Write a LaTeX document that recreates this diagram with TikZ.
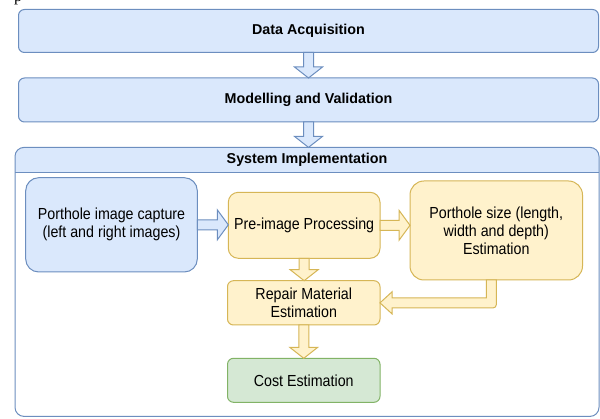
\documentclass[tikz,border=0pt]{standalone}
\usepackage{fontspec}
\setmainfont{Liberation Sans}[FakeStretch=0.89]
\newfontfamily\headfont{Liberation Sans}
\newfontfamily\pfont{Liberation Serif}
\usetikzlibrary{calc}

\definecolor{bluefill}{HTML}{DAE8FC}
\definecolor{bluedraw}{HTML}{6C8EBF}
\definecolor{yellowfill}{HTML}{FFF2CC}
\definecolor{yellowdraw}{HTML}{D6B656}
\definecolor{greenfill}{HTML}{D5E8D4}
\definecolor{greendraw}{HTML}{82B366}

\tikzset{
  every node/.style={inner sep=0pt, outer sep=0pt},
  bodytext/.style={font=\fontsize{16}{18}\selectfont, align=center},
  headtext/.style={font=\headfont\bfseries\fontsize{14.3}{17}\selectfont},
  bluebox/.style={draw=bluedraw, fill=bluefill, line width=1pt},
  yellowbox/.style={draw=yellowdraw, fill=yellowfill, line width=1pt},
  greenbox/.style={draw=greendraw, fill=greenfill, line width=1pt},
  bluearrow/.style={draw=bluedraw, fill=bluefill, line width=1pt, line join=miter},
  yellowarrow/.style={draw=yellowdraw, fill=yellowfill, line width=1pt, line join=miter},
}

% hollow block arrow pointing down: style, source node, target node
\newcommand\vblock[3]{%
  \path[#1] let \p1=(#2.south), \p2=(#3.north) in
    (\x1-5pt,\y1) -- (\x1-5pt,\y2+11pt) -- (\x1-14pt,\y2+11pt) -- (\x1,\y2)
    -- (\x1+14pt,\y2+11pt) -- (\x1+5pt,\y2+11pt) -- (\x1+5pt,\y1) -- cycle;}
% hollow block arrow pointing right: style, source node, target node
\newcommand\hblock[3]{%
  \path[#1] let \p1=(#2.east), \p2=(#3.west) in
    (\x1,\y1+5pt) -- (\x2-11pt,\y1+5pt) -- (\x2-11pt,\y1+15pt) -- (\x2,\y1)
    -- (\x2-11pt,\y1-15pt) -- (\x2-11pt,\y1-5pt) -- (\x1,\y1-5pt) -- cycle;}

\begin{document}
\begin{tikzpicture}[x=1pt, y=-1pt]
\useasboundingbox (0,0) rectangle (600,419);

% stray letter at the top edge
\node[anchor=base west, font=\pfont\fontsize{16}{18}\selectfont] (pchar) at (14,1.8) {p};

% upper stages
\node[bluebox, rounded corners=6pt, minimum width=580pt, minimum height=43pt, headtext]
  (da) at (308.5,31) {Data Acquisition};
\node[bluebox, rounded corners=6pt, minimum width=580pt, minimum height=44pt, headtext]
  (mv) at (308.5,100) {Modelling and Validation};

% container with header band
\node[fill=white, minimum width=584pt, minimum height=269pt, rounded corners=9pt] (sys) at (307,281.9) {};
\begin{scope}
  \clip (15,147.3) rectangle (599,172.7);
  \fill[bluefill, rounded corners=9pt] (sys.south west) rectangle (sys.north east);
\end{scope}
\coordinate (hdl) at (0,172.7);
\draw[bluedraw, line width=1pt] (sys.west |- hdl) -- (sys.east |- hdl);
\draw[bluedraw, line width=1pt, rounded corners=9pt] (sys.south west) rectangle (sys.north east);
\node[headtext] (syshead) at (307,160) {System Implementation};

% inner stages
\node[bluebox, rounded corners=13pt, minimum width=171.6pt, minimum height=94.3pt, bodytext]
  (cap) at (111.5,224.85) {Porthole image capture\\(left and right images)};
\node[yellowbox, rounded corners=10pt, minimum width=151.7pt, minimum height=66pt, bodytext]
  (pre) at (304.15,225.3) {Pre-image Processing};
\node[yellowbox, rounded corners=14pt, minimum width=172.5pt, minimum height=99pt, bodytext]
  (size) at (496.25,230.5) {Porthole size (length,\\width and depth)\\Estimation};
\node[yellowbox, rounded corners=6pt, minimum width=152.5pt, minimum height=44.3pt, bodytext]
  (rep) at (303.75,302.85) {Repair Material\\Estimation};
\node[greenbox, rounded corners=6pt, minimum width=152.5pt, minimum height=44pt, bodytext]
  (cost) at (303.75,380.3) {Cost Estimation};

% connectors
\vblock{bluearrow}{da}{mv}
\vblock{bluearrow}{mv}{sys}
\hblock{bluearrow}{cap}{pre}
\hblock{yellowarrow}{pre}{size}
\vblock{yellowarrow}{pre}{rep}
\vblock{yellowarrow}{rep}{cost}
\path[yellowarrow] let \p1=($(size.south)+(-5pt,0)$), \p2=(rep.east) in
  (\x1-5pt,\y1) -- (\x1-5pt,\y2+5pt) -- (\x2+12pt,\y2+5pt) -- (\x2+12pt,\y2+11pt)
  -- (\x2,\y2) -- (\x2+12pt,\y2-11pt) -- (\x2+12pt,\y2-5pt)
  [rounded corners=3pt] -- (\x1+5pt,\y2-5pt) [sharp corners] -- (\x1+5pt,\y1) -- cycle;
\end{tikzpicture}
\end{document}
